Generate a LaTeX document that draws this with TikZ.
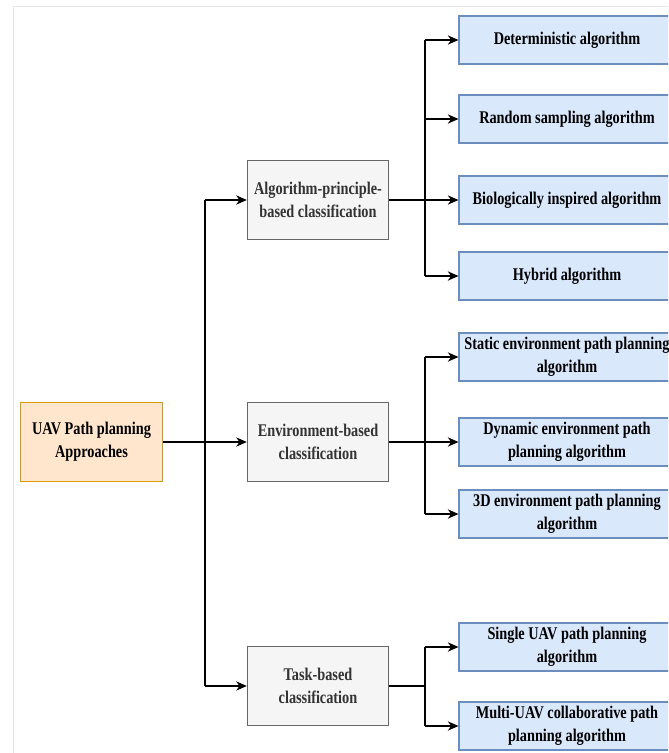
\documentclass[tikz,border=0pt]{standalone}
\usepackage{fontspec}
\setmainfont{Liberation Serif}[FakeStretch=0.8]
\usepackage{tikz}
\usetikzlibrary{arrows.meta,positioning}

\definecolor{rootfill}{HTML}{FFE6CC}
\definecolor{rootline}{HTML}{D79B00}
\definecolor{midfill}{HTML}{F5F5F5}
\definecolor{midline}{HTML}{666666}
\definecolor{midtext}{HTML}{333333}
\definecolor{algfill}{HTML}{DAE8FC}
\definecolor{algline}{HTML}{6C8EBF}

\tikzset{
  box/.style={draw, line width=0.8pt, align=center, inner sep=2pt,
    font=\bfseries\fontsize{13.4}{17.2}\selectfont},
  rootbox/.style={box, fill=rootfill, draw=rootline, minimum width=107pt, minimum height=59pt},
  classbox/.style={box, fill=midfill, draw=midline, text=midtext, minimum width=106pt, minimum height=59pt},
  algbox/.style={box, fill=algfill, draw=algline, minimum width=162pt, minimum height=36pt},
  arr/.style={-{Stealth[length=8pt,width=7pt,inset=2.5pt]}, line width=0.9pt},
  link/.style={line width=0.9pt}
}

\begin{document}
\begin{tikzpicture}[x=0.75pt,y=0.75pt,yscale=-1,xscale=1]
\clip (0,0) rectangle (668,753);
\fill[white] (0,0) rectangle (668,753);
% faint page edge
\draw[black!10, line width=0.6pt] (13,760) -- (13,6) -- (680,6);

% Root
\node[rootbox] (uav) at (91.5,442) {UAV Path planning\\Approaches};

% Classification
\node[classbox] (algcls) at (318,200) {Algorithm-principle-\\based classification};
\node[classbox] (envcls) at (318,442) {Environment-based\\classification};
\node[classbox] (taskcls) at (318,686) {Task-based\\classification};

% Algorithms
\node[algbox] (det) at (567,40) {Deterministic algorithm};
\node[algbox] (rand) at (567,119) {Random sampling algorithm};
\node[algbox] (bio) at (567,200) {Biologically inspired algorithm};
\node[algbox] (hyb) at (567,276) {Hybrid algorithm};
\node[algbox] (stat) at (567,357) {Static environment path planning\\algorithm};
\node[algbox] (dyn) at (567,442) {Dynamic environment path\\planning algorithm};
\node[algbox] (threed) at (567,514) {3D environment path planning\\algorithm};
\node[algbox] (single) at (567,647) {Single UAV path planning\\algorithm};
\node[algbox] (multi) at (567,726) {Multi-UAV collaborative path\\planning algorithm};

% Connectors
\coordinate (trunk) at (205,442);
\coordinate (bus) at (425,442);

\draw[arr] (uav) -- (envcls);
\draw[link] (trunk |- algcls) -- (trunk |- taskcls);
\draw[arr] (trunk |- algcls) -- (algcls);
\draw[arr] (trunk |- taskcls) -- (taskcls);

\draw[arr] (algcls) -- (bio);
\draw[link] (bus |- det) -- (bus |- hyb);
\foreach \n in {det,rand,hyb}
  \draw[arr] (bus |- \n) -- (\n);

\draw[arr] (envcls) -- (dyn);
\draw[link] (bus |- stat) -- (bus |- threed);
\foreach \n in {stat,threed}
  \draw[arr] (bus |- \n) -- (\n);

\draw[link] (taskcls) -- (bus |- taskcls);
\draw[link] (bus |- single) -- (bus |- multi);
\foreach \n in {single,multi}
  \draw[arr] (bus |- \n) -- (\n);

\end{tikzpicture}
\end{document}
